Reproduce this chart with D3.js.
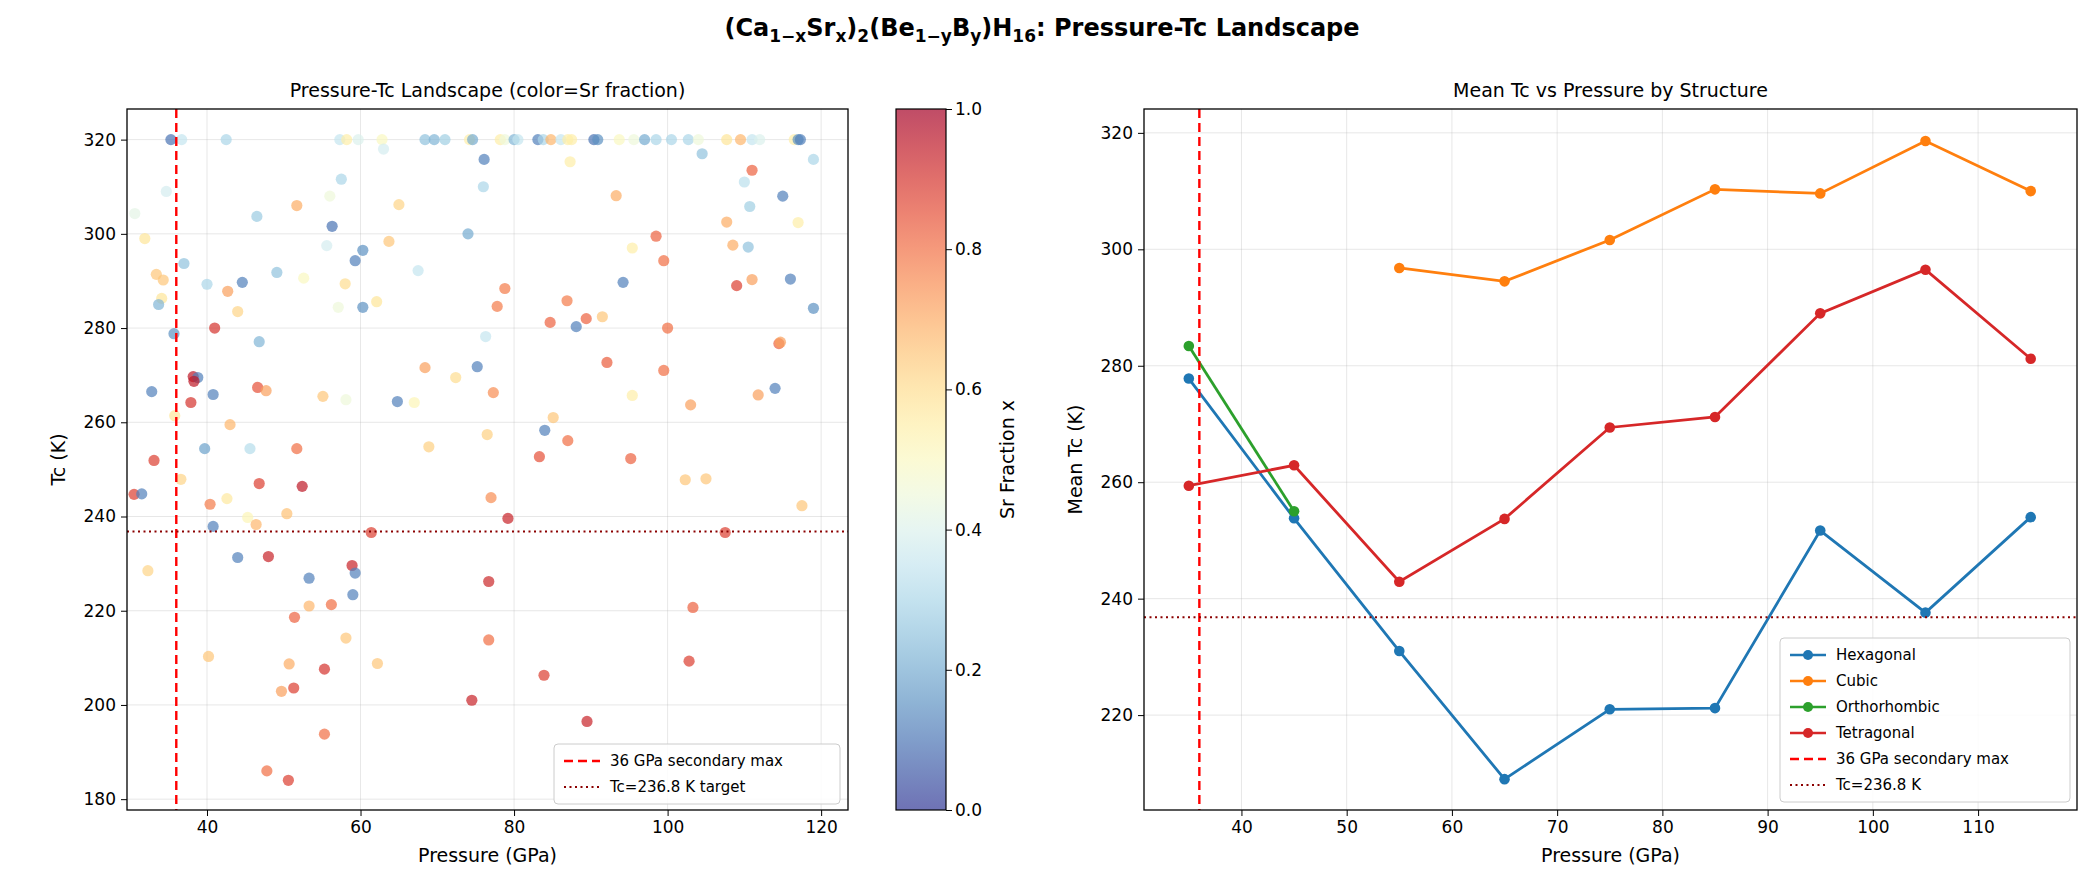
<!DOCTYPE html>
<html><head><meta charset="utf-8">
<script src="https://cdn.jsdelivr.net/npm/d3@7"></script>
<style>body{margin:0;background:#fff;font-family:"DejaVu Sans",sans-serif}</style>
</head><body>
<svg id="fig" width="2085" height="889"></svg>
<script>
// scatter points: [pressure, Tc, Sr fraction]
var scatterPts = [
 [35.3,320,0.1],[36.7,320,0.35],[42.5,320,0.3],[57.3,320,0.35],[58.2,320,0.55],[59.7,320,0.4],
 [57.5,311.6,0.3],[34.7,309,0.38],[56,308,0.45],[30.6,304.3,0.42],[51.7,306,0.7],[46.5,303.7,0.27],
 [56.3,301.6,0.1],[31.9,299,0.58],[55.6,297.5,0.38],[60.3,296.5,0.15],[37,293.7,0.25],[59.3,294.3,0.12],
 [33.4,291.4,0.65],[34.3,290.2,0.65],[49.1,291.8,0.25],[52.6,290.6,0.5],[40,289.3,0.3],[42.7,287.8,0.72],
 [44.6,289.7,0.12],[58,289.4,0.6],[34.1,286.3,0.58],[33.7,285,0.22],[44,283.5,0.62],[57.1,284.4,0.45],
 [60.3,284.4,0.15],[41,280,0.9],[35.7,278.8,0.15],[46.8,277.1,0.22],
 [62.8,320,0.5],[68.4,320,0.25],[69.6,320,0.22],[71,320,0.28],[74.2,320,0.55],[74.6,320,0.2],[78.2,320,0.55],
 [78.8,320,0.45],[80,320,0.22],[80.5,320,0.35],[83.1,320,0.12],[83.8,320,0.3],[84.8,320,0.68],[86.1,320,0.35],
 [87,320,0.55],[87.5,320,0.55],[90.4,320,0.1],[90.9,320,0.15],[93.7,320,0.5],[95.6,320,0.45],
 [63,318,0.38],[76.1,315.8,0.12],[87.3,315.3,0.55],[76,310,0.3],[93.3,308.1,0.7],[65,306.2,0.62],
 [74,300,0.2],[63.7,298.4,0.65],[95.4,297,0.55],[67.5,292.2,0.35],[94.2,289.7,0.12],[78.8,288.4,0.78],
 [86.9,285.8,0.78],[77.8,284.6,0.78],[62.1,285.6,0.58],[84.7,281.2,0.82],[89.4,282,0.82],[88.1,280.3,0.12],
 [91.5,282.4,0.65],[76.3,278.2,0.35],
 [38.2,269.7,0.95],[38.8,269.5,0.12],[38.3,268.7,0.95],[32.8,266.5,0.12],[40.8,265.9,0.12],[46.6,267.4,0.85],
 [47.7,266.7,0.72],[55.1,265.5,0.65],[58.1,264.8,0.45],[37.9,264.2,0.9],[35.8,261.4,0.58],[43,259.5,0.68],
 [39.7,254.4,0.18],[45.6,254.4,0.32],[51.7,254.4,0.8],[33.1,251.9,0.88],[36.6,247.9,0.62],[46.8,247,0.88],
 [52.4,246.4,0.95],[30.5,244.7,0.88],[31.5,244.8,0.12],[40.4,242.6,0.78],[42.6,243.8,0.57],[45.3,239.8,0.52],
 [46.4,238.3,0.68],[50.4,240.6,0.66],[40.8,237.9,0.12],[32.3,228.5,0.62],[44,231.3,0.12],[48,231.5,0.93],
 [58.9,229.6,0.93],[59.3,228,0.12],[53.3,226.9,0.12],[59,223.4,0.12],[53.3,221,0.68],[56.2,221.3,0.8],
 [68.4,271.6,0.72],[75.2,271.8,0.12],[72.4,269.5,0.6],[77.3,266.3,0.75],[64.8,264.4,0.12],[67,264.2,0.52],
 [92.1,272.7,0.83],[95.4,265.7,0.55],[85.1,261,0.65],[76.5,257.4,0.63],[84,258.3,0.12],[87,256.1,0.8],
 [68.9,254.8,0.63],[83.3,252.7,0.85],[95.2,252.3,0.82],[77,244,0.75],[79.2,239.6,0.93],[61.4,236.6,0.88],
 [76.7,226.2,0.92],
 [97,320,0.2],[98.5,320,0.3],[100.5,320,0.3],[102.7,320,0.3],[104,320,0.45],[107.7,320,0.58],[109.5,320,0.68],
 [111,320,0.35],[112,320,0.4],[116.5,320,0.55],[117,320,0.15],[117.3,320,0.12],
 [104.5,317,0.25],[110,311,0.33],[119,315.8,0.3],[111,313.5,0.82],[115,308,0.12],[110.7,305.8,0.28],
 [117,302.4,0.55],[107.7,302.5,0.7],[108.5,297.6,0.7],[110.5,297.2,0.25],[98.5,299.5,0.82],[99.5,294.3,0.8],
 [111,290.3,0.72],[116,290.4,0.12],[109,289,0.88],[119,284.2,0.15],[100,280,0.8],[99.5,271,0.8],
 [114.5,276.7,0.82],[114.7,277,0.72],[114,267.2,0.12],[111.8,265.8,0.72],[103,263.7,0.72],[102.3,247.8,0.65],
 [105,248,0.65],[117.5,242.3,0.65],[107.5,236.6,0.88],[103.3,220.7,0.82],[102.8,209.3,0.88],
 [40.2,210.3,0.65],[50.7,208.7,0.7],[55.3,207.6,0.9],[51.3,203.6,0.88],[49.7,202.9,0.72],[62.2,208.8,0.65],
 [76.7,213.8,0.8],[58.1,214.2,0.65],[74.5,201,0.93],[83.9,206.3,0.88],[89.5,196.5,0.93],[55.3,193.8,0.8],
 [47.8,186,0.8],[50.6,184,0.88],[51.4,218.6,0.82]
];

var pressureBins = [35,45,55,65,75,85,95,105,115];
var hexagonal = [277.8,253.8,231,209,221,221.2,251.7,237.6,254];
var cubic = [null,null,296.8,294.5,301.6,310.3,309.6,318.6,310];
var orthorhombic = [283.4,255,null,null,null,null,null,null,null];
var tetragonal = [259.4,262.9,242.9,253.7,269.4,271.2,289,296.5,281.2];
var seriesNames = ["Hexagonal","Cubic","Orthorhombic","Tetragonal"];
var seriesColors = ["#1f77b4","#ff7f0e","#2ca02c","#d62728"];

var pressureMax = 36, tcTarget = 236.8;

var svg = d3.select("#fig");
var cmap = function(v){ return d3.interpolateRdYlBu(1 - v); };

// suptitle with subscripts
var st = svg.append("text").attr("x",1042).attr("y",36).attr("text-anchor","middle")
  .attr("font-size",24).attr("font-weight","bold");
var parts = [["(Ca",0],["1−x",1],["Sr",0],["x",1],[")",0],["2",1],["(Be",0],["1−y",1],["B",0],["y",1],[")H",0],["16",1],[": Pressure-Tc Landscape",0]];
parts.forEach(function(p,i){
  var prevSub = i>0 && parts[i-1][1];
  st.append("tspan").text(p[0]).attr("font-size",p[1]?17:24)
    .attr("dy", p[1] && !prevSub ? 6 : (!p[1] && prevSub ? -6 : 0));
});

function axesFrame(g, x, y, w, h, xt, yt, xl, yl, title){
  g.append("g").selectAll("line").data(xt).enter().append("line")
    .attr("x1",d=>x(d)).attr("x2",d=>x(d)).attr("y1",0).attr("y2",h).attr("stroke","#b0b0b0").attr("stroke-opacity",0.3);
  g.append("g").selectAll("line").data(yt).enter().append("line")
    .attr("y1",d=>y(d)).attr("y2",d=>y(d)).attr("x1",0).attr("x2",w).attr("stroke","#b0b0b0").attr("stroke-opacity",0.3);
  var xa = g.append("g").attr("transform","translate(0,"+h+")").call(d3.axisBottom(x).tickValues(xt).tickSize(6).tickPadding(5).tickFormat(d3.format("d")));
  var ya = g.append("g").call(d3.axisLeft(y).tickValues(yt).tickSize(6).tickPadding(5).tickFormat(d3.format("d")));
  [xa,ya].forEach(function(a){ a.select(".domain").remove(); a.selectAll("text").attr("font-size",17).attr("font-family","DejaVu Sans").attr("fill","#000"); a.selectAll("line").attr("stroke","#000"); });
  g.append("text").attr("x",w/2).attr("y",h+52).attr("text-anchor","middle").attr("font-size",19).text(xl);
  g.append("text").attr("transform","translate(-62,"+h/2+") rotate(-90)").attr("text-anchor","middle").attr("font-size",19).text(yl);
  g.append("text").attr("x",w/2).attr("y",-12).attr("text-anchor","middle").attr("font-size",19).text(title);
}

function refLines(g, x, y, w, h){
  g.append("line").attr("x1",x(pressureMax)).attr("x2",x(pressureMax)).attr("y1",0).attr("y2",h)
    .attr("stroke","red").attr("stroke-width",2.4).attr("stroke-dasharray","9,5");
  g.append("line").attr("x1",0).attr("x2",w).attr("y1",y(tcTarget)).attr("y2",y(tcTarget))
    .attr("stroke","darkred").attr("stroke-width",2).attr("stroke-dasharray","2,3.5");
}

function legend(g, x0, y0, w, items){
  var rh = 26;
  var lg = g.append("g").attr("transform","translate("+x0+","+y0+")");
  lg.append("rect").attr("width",w).attr("height",items.length*rh+8).attr("rx",4)
    .attr("fill","#fff").attr("fill-opacity",0.85).attr("stroke","#ccc");
  items.forEach(function(it,i){
    var yy = 17 + i*rh;
    lg.append("line").attr("x1",10).attr("x2",46).attr("y1",yy).attr("y2",yy).attr("stroke",it.c)
      .attr("stroke-width",it.dash? (it.dash=="2,3.5"?2:2.4):2.6).attr("stroke-dasharray",it.dash||null);
    if(it.m) lg.append("circle").attr("cx",28).attr("cy",yy).attr("r",5).attr("fill",it.c);
    lg.append("text").attr("x",56).attr("y",yy+5).attr("font-size",15).text(it.t);
  });
}

// ---- left scatter
var L = {x:127,y:109,w:721,h:701};
var gl = svg.append("g").attr("transform","translate("+L.x+","+L.y+")");
var xl = d3.scaleLinear().domain([29.58,123.5]).range([0,L.w]);
var yl = d3.scaleLinear().domain([177.7,326.5]).range([L.h,0]);
axesFrame(gl, xl, yl, L.w, L.h, [40,60,80,100,120], d3.range(180,321,20), "Pressure (GPa)", "Tc (K)", "Pressure-Tc Landscape (color=Sr fraction)");
gl.append("g").selectAll("circle").data(scatterPts).enter().append("circle")
  .attr("cx",d=>xl(d[0])).attr("cy",d=>yl(d[1])).attr("r",5.6)
  .attr("fill",d=>cmap(d[2])).attr("fill-opacity",0.7);
refLines(gl, xl, yl, L.w, L.h);
gl.append("rect").attr("width",L.w).attr("height",L.h).attr("fill","none").attr("stroke","#000").attr("stroke-width",1.3);
legend(gl, L.w-294, L.h-66, 286, [{t:"36 GPa secondary max",c:"red",dash:"9,5"},{t:"Tc=236.8 K target",c:"darkred",dash:"2,3.5"}]);

// colorbar
var C = {x:896,y:109,w:50,h:701};
var gc = svg.append("g").attr("transform","translate("+C.x+","+C.y+")");
var defs = svg.append("defs");
var grad = defs.append("linearGradient").attr("id","cb").attr("x1",0).attr("x2",0).attr("y1",1).attr("y2",0);
d3.range(0,1.001,0.05).forEach(function(t){ grad.append("stop").attr("offset",t).attr("stop-color",cmap(t)); });
gc.append("rect").attr("width",C.w).attr("height",C.h).attr("fill","url(#cb)").attr("opacity",0.7);
gc.append("rect").attr("width",C.w).attr("height",C.h).attr("fill","none").attr("stroke","#000").attr("stroke-width",1.2);
var yc = d3.scaleLinear().domain([0,1]).range([C.h,0]);
var ca = gc.append("g").attr("transform","translate("+C.w+",0)").call(d3.axisRight(yc).tickValues([0,0.2,0.4,0.6,0.8,1]).tickFormat(d3.format(".1f")).tickSize(6));
ca.select(".domain").remove();
ca.selectAll("text").attr("font-size",17).attr("font-family","DejaVu Sans");
gc.append("text").attr("transform","translate("+(C.w+68)+","+C.h/2+") rotate(-90)").attr("text-anchor","middle").attr("font-size",19).text("Sr Fraction x");

// ---- right lines
var R = {x:1144,y:109,w:933,h:701};
var gr = svg.append("g").attr("transform","translate("+R.x+","+R.y+")");
var xr = d3.scaleLinear().domain([30.74,119.4]).range([0,R.w]);
var yr = d3.scaleLinear().domain([203.7,324.1]).range([R.h,0]);
axesFrame(gr, xr, yr, R.w, R.h, d3.range(40,111,10), d3.range(220,321,20), "Pressure (GPa)", "Mean Tc (K)", "Mean Tc vs Pressure by Structure");
[hexagonal,cubic,orthorhombic,tetragonal].forEach(function(s,k){
  var pts = pressureBins.map((p,i)=>[p,s[i]]).filter(d=>d[1]!=null);
  gr.append("path").datum(pts).attr("fill","none").attr("stroke",seriesColors[k]).attr("stroke-width",2.8)
    .attr("d",d3.line().x(d=>xr(d[0])).y(d=>yr(d[1])));
  gr.append("g").selectAll("circle").data(pts).enter().append("circle")
    .attr("cx",d=>xr(d[0])).attr("cy",d=>yr(d[1])).attr("r",5.3).attr("fill",seriesColors[k]);
});
refLines(gr, xr, yr, R.w, R.h);
gr.append("rect").attr("width",R.w).attr("height",R.h).attr("fill","none").attr("stroke","#000").attr("stroke-width",1.3);
var items = seriesNames.map((n,i)=>({t:n,c:seriesColors[i],m:true}));
items.push({t:"36 GPa secondary max",c:"red",dash:"9,5"},{t:"Tc=236.8 K",c:"darkred",dash:"2,3.5"});
legend(gr, R.w-297, R.h-172, 290, items);
</script>
</body></html>
